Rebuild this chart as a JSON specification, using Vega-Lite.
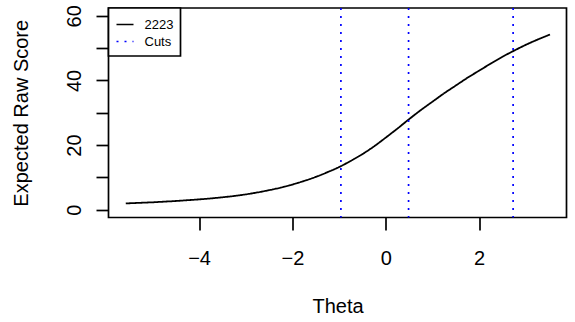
{
  "$schema": "https://vega.github.io/schema/vega-lite/v6.json",
  "width": 458,
  "height": 209.5,
  "autosize": {"type": "none"},
  "padding": {"left": 108.5, "top": 8, "right": 8.5, "bottom": 104.5},
  "background": "white",
  "config": {
    "view": {"stroke": "black", "strokeWidth": 1.7},
    "font": "Liberation Sans",
    "axis": {"grid": false, "domain": false, "tickColor": "black", "tickWidth": 1.7, "tickSize": 12.5,
             "labelFont": "Liberation Sans", "labelFontSize": 20, "labelColor": "black",
             "titleFont": "Liberation Sans", "titleFontSize": 20, "titleFontWeight": "normal", "titleColor": "black"},
    "legend": {"orient": "none", "legendX": 0, "legendY": 0, "symbolType": "stroke", "symbolSize": 289,
               "symbolStrokeWidth": 1.7, "labelFont": "Liberation Sans", "labelFontSize": 13, "labelColor": "black",
               "labelOffset": 10, "padding": 7, "rowPadding": -4, "strokeColor": "black", "fillColor": "white",
               "strokeWidth": 1.7, "cornerRadius": 0}
  },
  "datasets": {
    "curve": [
      {"theta": -5.57, "score": 1.95, "series": "2223"},
      {"theta": -5.25, "score": 2.15, "series": "2223"},
      {"theta": -5.0, "score": 2.3, "series": "2223"},
      {"theta": -4.75, "score": 2.5, "series": "2223"},
      {"theta": -4.5, "score": 2.7, "series": "2223"},
      {"theta": -4.25, "score": 2.95, "series": "2223"},
      {"theta": -4.0, "score": 3.2, "series": "2223"},
      {"theta": -3.75, "score": 3.5, "series": "2223"},
      {"theta": -3.5, "score": 3.85, "series": "2223"},
      {"theta": -3.25, "score": 4.25, "series": "2223"},
      {"theta": -3.0, "score": 4.75, "series": "2223"},
      {"theta": -2.75, "score": 5.35, "series": "2223"},
      {"theta": -2.5, "score": 6.05, "series": "2223"},
      {"theta": -2.25, "score": 6.85, "series": "2223"},
      {"theta": -2.0, "score": 7.8, "series": "2223"},
      {"theta": -1.75, "score": 8.9, "series": "2223"},
      {"theta": -1.5, "score": 10.15, "series": "2223"},
      {"theta": -1.25, "score": 11.6, "series": "2223"},
      {"theta": -1.0, "score": 13.2, "series": "2223"},
      {"theta": -0.75, "score": 15.1, "series": "2223"},
      {"theta": -0.5, "score": 17.2, "series": "2223"},
      {"theta": -0.25, "score": 19.6, "series": "2223"},
      {"theta": 0.0, "score": 22.3, "series": "2223"},
      {"theta": 0.25, "score": 25.1, "series": "2223"},
      {"theta": 0.5, "score": 28.0, "series": "2223"},
      {"theta": 0.75, "score": 30.8, "series": "2223"},
      {"theta": 1.0, "score": 33.4, "series": "2223"},
      {"theta": 1.25, "score": 36.0, "series": "2223"},
      {"theta": 1.5, "score": 38.4, "series": "2223"},
      {"theta": 1.75, "score": 40.8, "series": "2223"},
      {"theta": 2.0, "score": 43.0, "series": "2223"},
      {"theta": 2.25, "score": 45.2, "series": "2223"},
      {"theta": 2.5, "score": 47.3, "series": "2223"},
      {"theta": 2.75, "score": 49.2, "series": "2223"},
      {"theta": 3.0, "score": 51.0, "series": "2223"},
      {"theta": 3.25, "score": 52.6, "series": "2223"},
      {"theta": 3.52, "score": 54.2, "series": "2223"}
    ],
    "cuts": [
      {"theta": -0.96, "series": "Cuts"},
      {"theta": 0.49, "series": "Cuts"},
      {"theta": 2.73, "series": "Cuts"}
    ]
  },
  "encoding": {
    "x": {"field": "theta", "type": "quantitative",
          "scale": {"domain": [-5.94, 3.874], "nice": false, "zero": false},
          "axis": {"title": "Theta", "values": [-4, -2, 0, 2], "labelBaseline": "alphabetic", "labelPadding": 34,
                   "titleBaseline": "alphabetic", "titleY": 95}},
    "color": {"field": "series", "type": "nominal",
              "scale": {"domain": ["2223", "Cuts"], "range": ["black", "#0000FF"]},
              "legend": {"title": null}},
    "strokeDash": {"field": "series", "type": "nominal",
                   "scale": {"domain": ["2223", "Cuts"], "range": [[1, 0], [2, 6]]},
                   "legend": {"title": null}}
  },
  "layer": [
    {
      "data": {"name": "curve"},
      "mark": {"type": "line", "strokeWidth": 1.8, "interpolate": "monotone"},
      "encoding": {
        "y": {"field": "score", "type": "quantitative",
              "scale": {"domain": [-2.4, 62.4], "nice": false, "zero": false},
              "axis": {"title": "Expected Raw Score", "values": [0, 10, 20, 30, 40, 50, 60],
                       "labelExpr": "datum.value % 20 === 0 ? datum.label : ''",
                       "labelAngle": -90, "labelAlign": "center", "labelBaseline": "alphabetic", "labelPadding": 16,
                       "titleBaseline": "alphabetic", "titleX": -80.8, "titleAngle": -90}}
      }
    },
    {
      "data": {"name": "cuts"},
      "mark": {"type": "rule", "strokeWidth": 1.7},
      "encoding": {}
    }
  ]
}
